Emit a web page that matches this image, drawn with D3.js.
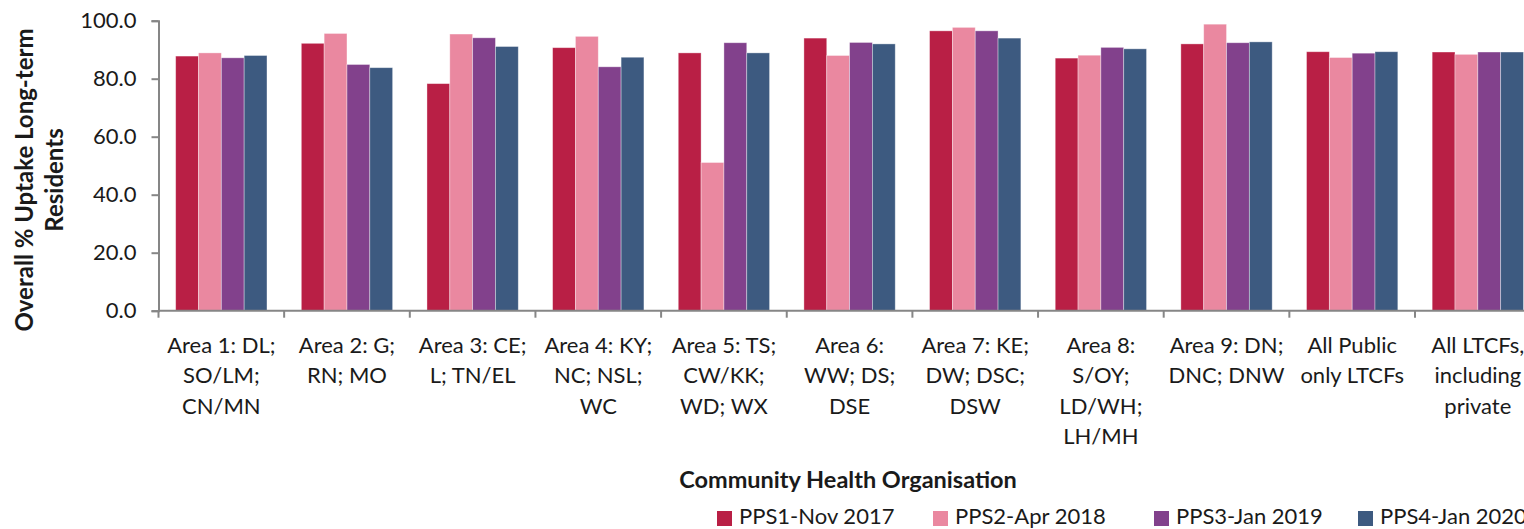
<!DOCTYPE html>
<html><head><meta charset="utf-8">
<script src="https://cdn.jsdelivr.net/npm/d3@7"></script>
<style>
html,body{margin:0;padding:0;background:#fff;}
svg text{font-family:"Lato","Open Sans",sans-serif;fill:#1a1a1a;}
</style></head>
<body><svg id="c" width="1524" height="529"></svg>
<script>
const categories = [
  ["Area 1: DL;","SO/LM;","CN/MN"],
  ["Area 2: G;","RN; MO"],
  ["Area 3: CE;","L; TN/EL"],
  ["Area 4: KY;","NC; NSL;","WC"],
  ["Area 5: TS;","CW/KK;","WD; WX"],
  ["Area 6:","WW; DS;","DSE"],
  ["Area 7: KE;","DW; DSC;","DSW"],
  ["Area 8:","S/OY;","LD/WH;","LH/MH"],
  ["Area 9: DN;","DNC; DNW"],
  ["All Public","only LTCFs"],
  ["All LTCFs,","including","private"]
];
const seriesNames = ["PPS1-Nov 2017","PPS2-Apr 2018","PPS3-Jan 2019","PPS4-Jan 2020"];
const pps1 = [87.8, 92.2, 78.3, 90.7, 88.9, 94.0, 96.5, 87.1, 92.0, 89.3, 89.2];
const pps2 = [88.9, 95.6, 95.4, 94.6, 51.1, 88.0, 97.7, 88.1, 98.8, 87.3, 88.4];
const pps3 = [87.2, 84.9, 94.1, 84.1, 92.4, 92.5, 96.5, 90.8, 92.4, 88.8, 89.2];
const pps4 = [88.0, 83.8, 91.1, 87.4, 88.9, 92.0, 94.0, 90.3, 92.7, 89.3, 89.2];
const yTicks = [0, 20, 40, 60, 80, 100];
const colors = ["#B91F45", "#EA88A0", "#82418C", "#3D5A80"];
const yTitle = ["Overall % Uptake Long-term", "Residents"];
const xTitle = "Community Health Organisation";

const allSeries = [pps1, pps2, pps3, pps4];
const svg = d3.select("#c");
const catIdx = categories.map((d, i) => i);

const x = d3.scaleBand().domain(catIdx).range([158.5, 158.5 + 11 * 125.65]).padding(0);
const xs = d3.scaleBand().domain(d3.range(4)).range([0, x.bandwidth()]).paddingInner(0).paddingOuter(0.752);
const y = d3.scaleLinear().domain([0, 100]).range([310.7, 20.7]);

// bars
const g = svg.append("g");
catIdx.forEach(ci => {
  allSeries.forEach((s, si) => {
    g.append("rect")
      .attr("x", x(ci) + xs(si))
      .attr("y", y(s[ci]))
      .attr("width", xs.bandwidth())
      .attr("height", y(0) - y(s[ci]))
      .attr("fill", colors[si])
      .attr("stroke", "rgba(255,255,255,0.45)")
      .attr("stroke-width", 0.8);
  });
});

// y axis
const yAxis = d3.axisLeft(y).tickValues(yTicks).tickFormat(d3.format(".1f")).tickSize(7).tickPadding(15);
const ya = svg.append("g").attr("transform", "translate(158.5,0)").call(yAxis);
ya.select(".domain").attr("stroke", "#868686").attr("stroke-width", 2);
ya.selectAll(".tick line").attr("stroke", "#868686").attr("stroke-width", 2);
ya.selectAll(".tick text").style("font-size", "22px").attr("fill", "#1a1a1a");

// x axis
const xa = svg.append("g").attr("transform", `translate(0,${y(0)})`);
xa.append("line").attr("x1", x.range()[0]).attr("x2", x.range()[1]).attr("stroke", "#868686").attr("stroke-width", 2);
xa.selectAll(".bt").data(catIdx.concat([11])).enter().append("line")
  .attr("x1", d => d < 11 ? x(d) : x(10) + x.bandwidth())
  .attr("x2", d => d < 11 ? x(d) : x(10) + x.bandwidth())
  .attr("y1", 0).attr("y2", 7).attr("stroke", "#868686").attr("stroke-width", 2);

// category labels
catIdx.forEach(ci => {
  const t = svg.append("text").attr("text-anchor", "middle").style("font-size", "22px")
    .attr("x", x(ci) + x.bandwidth() / 2).attr("y", 353);
  categories[ci].forEach((line, li) => {
    t.append("tspan").attr("x", x(ci) + x.bandwidth() / 2).attr("dy", li === 0 ? 0 : 30.3).text(line);
  });
});

// y title
const yt = svg.append("text").attr("transform", "translate(0,180) rotate(-90)").attr("text-anchor", "middle")
  .style("font-size", "24px").style("font-weight", "bold");
yTitle.forEach((l, i) => yt.append("tspan").attr("x", 0).attr("y", 33 + i * 30).text(l));

// x title
svg.append("text").attr("x", 848).attr("y", 488).attr("text-anchor", "middle")
  .style("font-size", "23.5px").style("font-weight", "bold").text(xTitle);

// legend
const legX = [717, 933, 1154, 1358];
seriesNames.forEach((n, i) => {
  svg.append("rect").attr("x", legX[i]).attr("y", 511).attr("width", 15).attr("height", 15).attr("fill", colors[i]);
  svg.append("text").attr("x", legX[i] + 22).attr("y", 524).style("font-size", "22px").text(n);
});
</script></body></html>
